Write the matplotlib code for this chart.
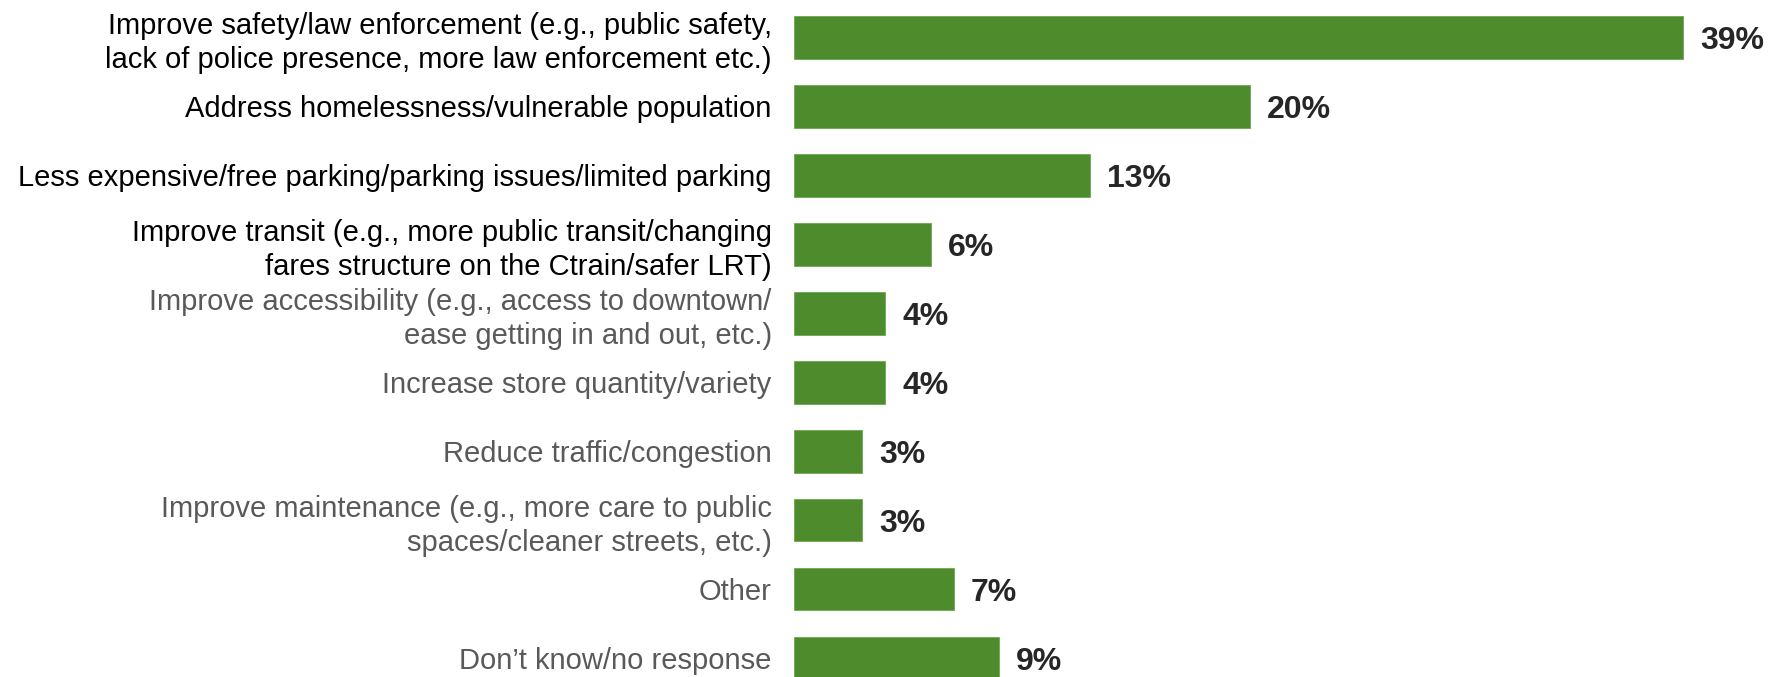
import matplotlib.pyplot as plt
import numpy as np

categories = [
    'Improve safety/law enforcement (e.g., public safety,\nlack of police presence, more law enforcement etc.)',
    'Address homelessness/vulnerable population',
    'Less expensive/free parking/parking issues/limited parking',
    'Improve transit (e.g., more public transit/changing\nfares structure on the Ctrain/safer LRT)',
    'Improve accessibility (e.g., access to downtown/\nease getting in and out, etc.)',
    'Increase store quantity/variety',
    'Reduce traffic/congestion',
    'Improve maintenance (e.g., more care to public\nspaces/cleaner streets, etc.)',
    'Other',
    'Don\u2019t know/no response',
]
values = [39, 20, 13, 6, 4, 4, 3, 3, 7, 9]
label_colors = ['#000000'] * 4 + ['#595959'] * 6

plt.rcParams['font.family'] = ['Liberation Sans', 'DejaVu Sans']

fig = plt.figure(figsize=(17.69, 6.77), dpi=100)
ax = fig.add_axes([0.4488, -0.023, 0.5155, 1.019])

y = np.arange(len(values))
bars = ax.barh(y, values, height=0.62, color='#4d8b2c', edgecolor='#6aa84f', linewidth=0.6)

ax.set_xlim(0, 40)
ax.set_ylim(9.5, -0.5)

ax.set_yticks(y)
ax.set_yticklabels(categories, fontsize=21, linespacing=1.25)
for lab, c in zip(ax.get_yticklabels(), label_colors):
    lab.set_color(c)
ax.tick_params(axis='y', length=0, pad=16)
ax.set_xticks([])

for b, v in zip(bars, values):
    ax.text(b.get_width() + 0.75, b.get_y() + b.get_height() / 2, f'{v}%',
            va='center_baseline', ha='left', fontsize=23, fontweight='bold',
            color='#262626', clip_on=False)

for s in ax.spines.values():
    s.set_visible(False)

fig.savefig('out.png', dpi=100)
